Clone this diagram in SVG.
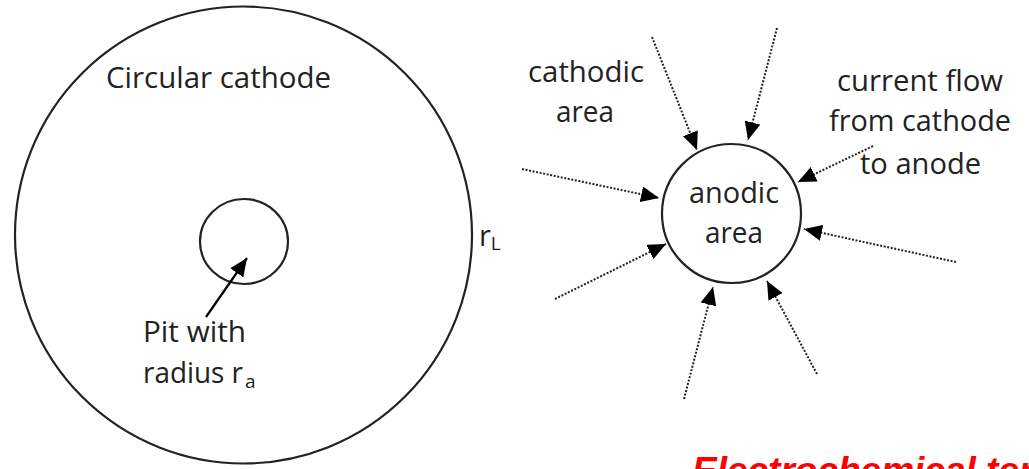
<svg xmlns="http://www.w3.org/2000/svg" width="1029" height="469" viewBox="0 0 1029 469">
<defs>
<style>
.t{font-family:"Open Sans","Noto Sans",sans-serif;font-size:29px;fill:#222}
.s{font-family:"Open Sans","Noto Sans",sans-serif;font-size:19px;fill:#222}
.c{fill:none;stroke:#222;stroke-width:2.2}
.d{fill:none;stroke:#222;stroke-width:2;stroke-dasharray:2 1.6;marker-end:url(#ah)}
.red{font-family:"Liberation Sans",Arial,sans-serif;font-size:37px;font-weight:bold;font-style:italic;fill:#ff0000}
</style>
<marker id="ah" markerUnits="userSpaceOnUse" markerWidth="19" markerHeight="17" refX="18" refY="8" orient="auto">
<path d="M0,0 L18,8 L0,16 Z" fill="#000"/>
</marker>
</defs>
<g id="cathode">
<circle class="c" cx="243.5" cy="235" r="228.5"/>
<text class="t" x="106" y="88" textLength="225" lengthAdjust="spacingAndGlyphs">Circular cathode</text>
<text class="t" x="479" y="246">r<tspan class="s" dy="4">L</tspan></text>
</g>
<g id="pit">
<ellipse class="c" cx="244" cy="241.5" rx="44" ry="42.5"/>
<text class="t" x="143" y="342" textLength="103" lengthAdjust="spacingAndGlyphs">Pit with</text>
<text class="t" x="143" y="383" textLength="100" lengthAdjust="spacingAndGlyphs">radius r</text>
<text class="s" x="245" y="388">a</text>
</g>
<g id="anode">
<circle class="c" cx="731.5" cy="213.5" r="69.5"/>
<text class="t" x="689" y="203" textLength="90" lengthAdjust="spacingAndGlyphs">anodic</text>
<text class="t" x="705" y="243" textLength="58" lengthAdjust="spacingAndGlyphs">area</text>
</g>
<g id="labels">
<text class="t" x="528" y="82" textLength="116" lengthAdjust="spacingAndGlyphs">cathodic</text>
<text class="t" x="556" y="122" textLength="58" lengthAdjust="spacingAndGlyphs">area</text>
<text class="t" x="837" y="91" textLength="166" lengthAdjust="spacingAndGlyphs">current flow</text>
<text class="t" x="829" y="131" textLength="182" lengthAdjust="spacingAndGlyphs">from cathode</text>
<text class="t" x="860" y="174" textLength="121" lengthAdjust="spacingAndGlyphs">to anode</text>
</g>
<g id="connectors">
<line x1="206" y1="317" x2="247" y2="258" stroke="#000" stroke-width="2.2" marker-end="url(#ah)"/>
<line class="d" x1="652" y1="37" x2="697" y2="150"/>
<line class="d" x1="777" y1="28" x2="748" y2="140"/>
<line class="d" x1="873" y1="146" x2="798" y2="182"/>
<line class="d" x1="522" y1="169" x2="659" y2="198"/>
<line class="d" x1="555" y1="299" x2="666" y2="244"/>
<line class="d" x1="956" y1="262" x2="804" y2="229"/>
<line class="d" x1="684" y1="399" x2="713" y2="287"/>
<line class="d" x1="817" y1="374" x2="767" y2="281"/>
</g>
<text class="red" x="692" y="483">Electrochemical ter</text>
</svg>
